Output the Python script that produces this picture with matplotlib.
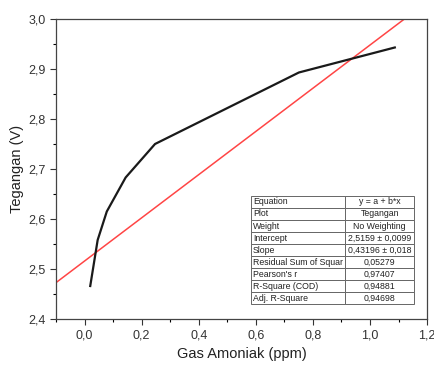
import matplotlib
matplotlib.use("Agg")
import matplotlib.pyplot as plt
from matplotlib.ticker import FuncFormatter, MultipleLocator
import numpy as np

plt.rcParams['font.family'] = ['Liberation Sans', 'DejaVu Sans']

# measured data (Gas Amoniak vs Tegangan)
gas_ppm = [0.02, 0.046, 0.078, 0.144, 0.247, 0.751, 1.087]
tegangan = [2.466, 2.558, 2.615, 2.683, 2.750, 2.893, 2.943]

# linear fit y = a + b*x
intercept = 2.5159
slope = 0.43196
fit_x = [-0.1, 1.2]

table_labels = ["Equation", "Plot", "Weight", "Intercept", "Slope",
                "Residual Sum of Squar", "Pearson's r", "R-Square (COD)",
                "Adj. R-Square"]
table_values = ["y = a + b*x", "Tegangan", "No Weighting", "2,5159 ± 0,0099",
                "0,43196 ± 0,018", "0,05279", "0,97407", "0,94881", "0,94698"]

fig = plt.figure(figsize=(4.34, 3.65), dpi=100)
ax = fig.add_axes([0.129, 0.126, 0.855, 0.822])

ax.plot(gas_ppm, tegangan, color='#1a1a1a', lw=1.6, zorder=3)
fx = np.array(fit_x)
ax.plot(fx, intercept + slope * fx, color='#ff4545', lw=1.1, zorder=2)

ax.set_xlim(-0.1, 1.2)
ax.set_ylim(2.4, 3.0)
ax.xaxis.set_major_locator(MultipleLocator(0.2))
ax.xaxis.set_minor_locator(MultipleLocator(0.1))
ax.yaxis.set_major_locator(MultipleLocator(0.1))
ax.yaxis.set_minor_locator(MultipleLocator(0.05))
comma = FuncFormatter(lambda v, p: f"{v:.1f}".replace('.', ','))
ax.xaxis.set_major_formatter(comma)
ax.yaxis.set_major_formatter(comma)
ax.tick_params(which='major', direction='out', length=4, width=0.8,
               labelsize=9, colors='#333333', top=False, right=False)
ax.tick_params(which='minor', direction='out', length=2.5, width=0.8,
               top=False, right=False)
for s in ax.spines.values():
    s.set_color('#444444')
    s.set_linewidth(0.9)

ax.set_xlabel("Gas Amoniak (ppm)", fontsize=10.5, color='#222222', labelpad=4)
ax.set_ylabel("Tegangan (V)", fontsize=10.5, color='#222222', labelpad=3)

cells = [[l, v] for l, v in zip(table_labels, table_values)]
tbl = ax.table(cellText=cells, colWidths=[0.577, 0.423],
               bbox=[0.526, 0.05, 0.439, 0.36], zorder=5)
tbl.auto_set_font_size(False)
for (r, c), cell in tbl.get_celld().items():
    cell.set_edgecolor('#666666')
    cell.set_linewidth(0.7)
    cell.set_facecolor('white')
    cell.get_text().set_fontsize(6.3)
    cell.get_text().set_color('#222222')
    if c == 0:
        cell.get_text().set_ha('left')
        cell.PAD = 0.02
    else:
        cell.get_text().set_ha('center')

fig.savefig("out.png", dpi=100)
